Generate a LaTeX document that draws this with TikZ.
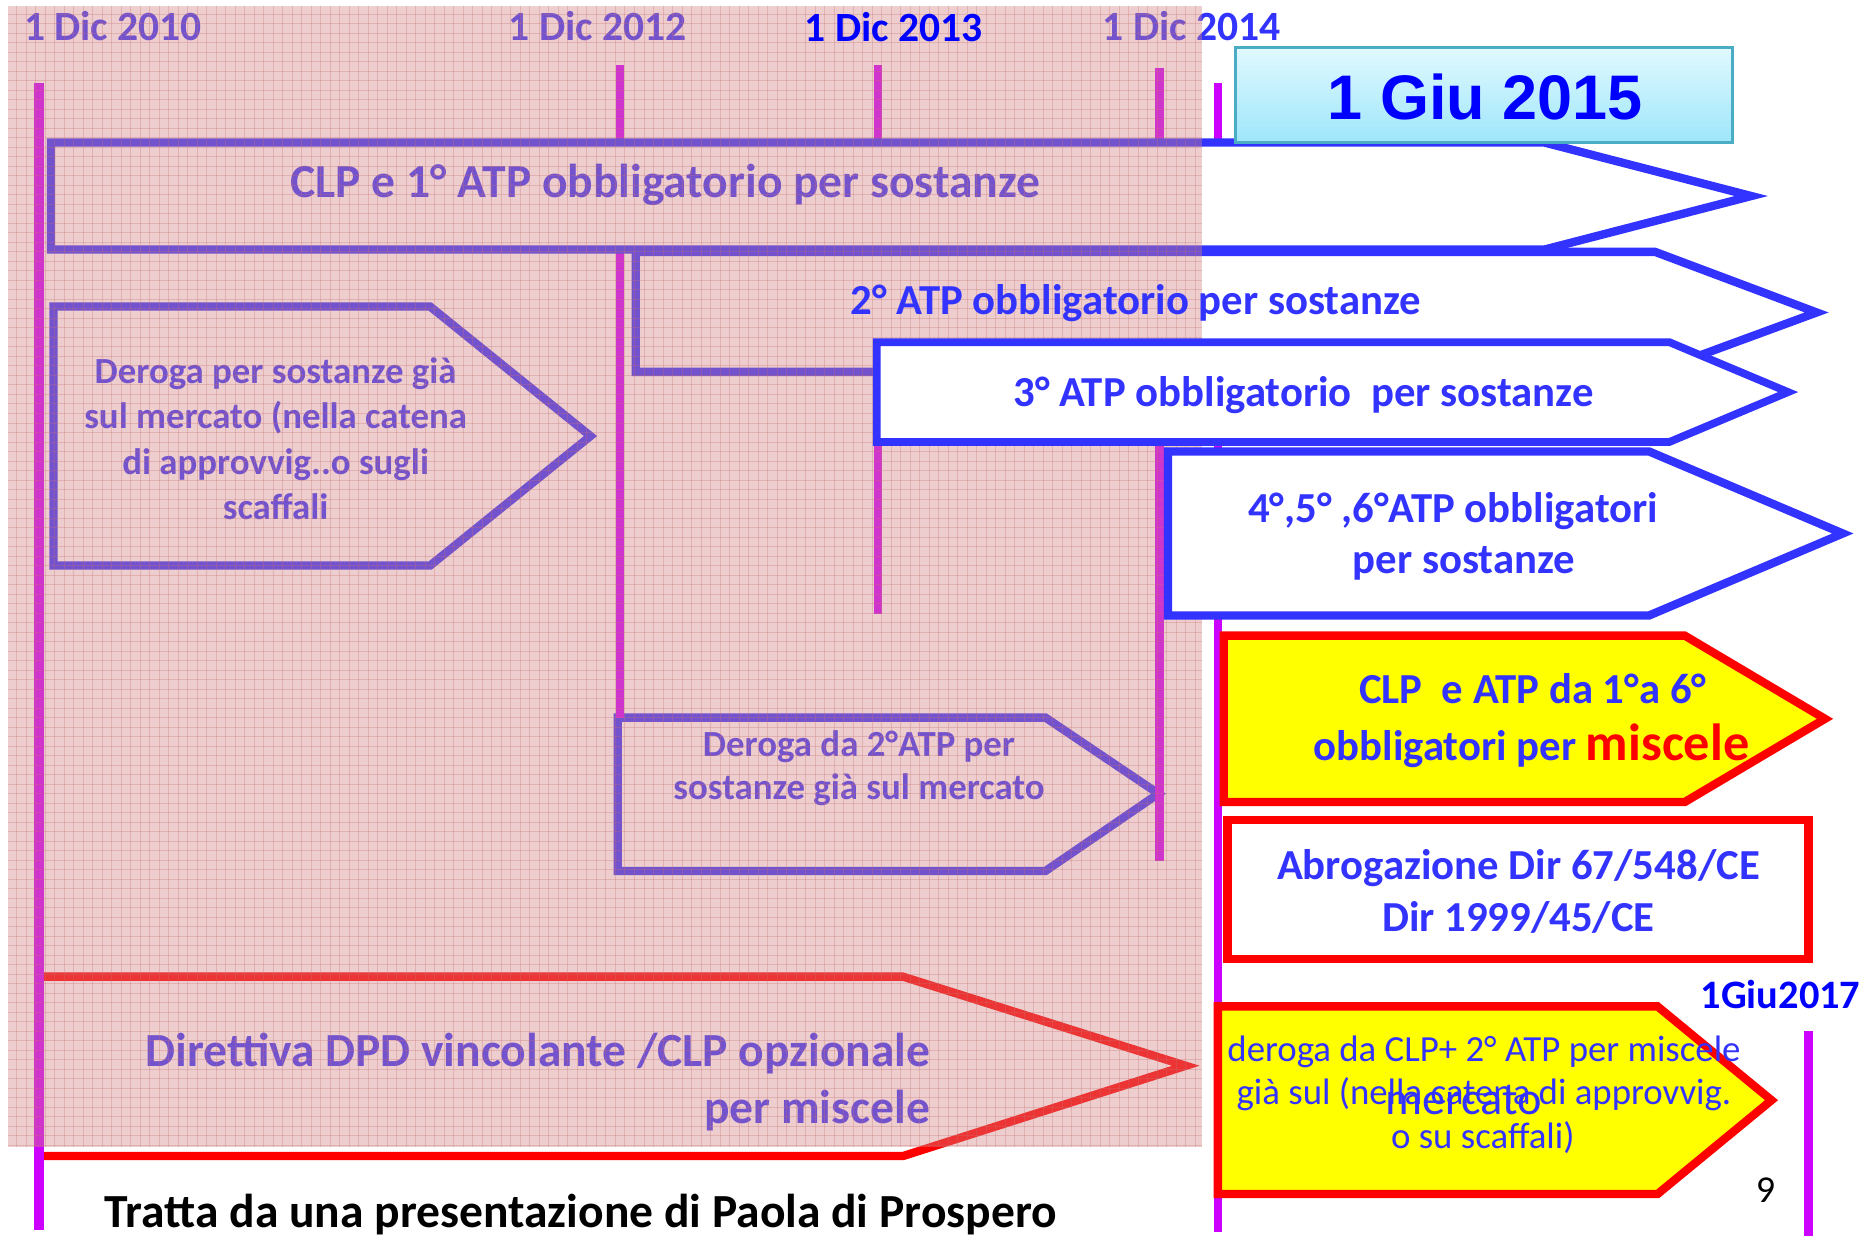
\documentclass[tikz,border=0pt]{standalone}
\usepackage{fontspec}
\setmainfont{Carlito}
\newfontfamily\arialfont{Liberation Sans}
\definecolor{cblue}{RGB}{51,51,255}
\definecolor{pblue}{RGB}{0,0,255}
\definecolor{cred}{RGB}{255,0,0}
\definecolor{cpurple}{RGB}{204,0,255}
\definecolor{cyellow}{RGB}{255,255,0}
\definecolor{cpink}{RGB}{212,130,130}
\definecolor{cgrid}{RGB}{200,110,110}
\definecolor{cteal}{RGB}{75,172,198}
\definecolor{ctop}{RGB}{225,249,255}
\definecolor{cbot}{RGB}{158,230,250}
\newcommand\fsz[1]{\fontsize{#1}{#1}\selectfont}
\begin{document}
\begin{tikzpicture}[x=1pt,y=-1pt,
  bluebox/.style={draw=cblue,line width=7pt,fill=white,line join=miter},
  redbox/.style={draw=cred,line width=7pt,fill=white,line join=miter},
  yelbox/.style={draw=cred,line width=7pt,fill=cyellow,line join=miter},
  vline/.style={draw=cpurple,line width=7pt},
  txt/.style={inner sep=0pt,anchor=base,text=cblue},
  gridline/.style={draw=cgrid,line width=0.8pt,opacity=0.3},
]
\useasboundingbox (0,0) rectangle (1568,1040);
\fill[white] (0,0) rectangle (1568,1040);

% ---------- layer under the pink overlay ----------
\filldraw[bluebox] (45,258) -- (362,258) -- (497,367) -- (362,476) -- (45,476) -- cycle;
\filldraw[bluebox] (520,604) -- (880,604) -- (975,668) -- (880,733) -- (520,733) -- cycle;
\fill[white] (37,822) -- (760,822) -- (998,897) -- (760,973) -- (37,973) -- cycle;
\draw[redbox,fill=none] (37,822) -- (760,822) -- (998,897) -- (760,973) -- (37,973);

\node[txt,font=\fsz{31}\bfseries] (d1a) at (232,323) {Deroga per sostanze già};
\node[txt,font=\fsz{31}\bfseries] (d1b) at (232,361) {sul mercato (nella catena};
\node[txt,font=\fsz{31}\bfseries] (d1c) at (232,399) {di approvvig..o sugli};
\node[txt,font=\fsz{31}\bfseries] (d1d) at (232,437) {scaffali};
\node[txt,font=\fsz{31}\bfseries] (d2a) at (723,637) {Deroga da 2°ATP per};
\node[txt,font=\fsz{31}\bfseries] (d2b) at (723,673) {sostanze già sul mercato};
\node[txt,font=\fsz{40}\bfseries,anchor=base east] (dpa) at (783,898) {Direttiva DPD vincolante /CLP opzionale};
\node[txt,font=\fsz{40}\bfseries,anchor=base east] (dpb) at (783,946) {per miscele};

% timeline lines
\coordinate (l1t) at (33,70);    \coordinate (l1b) at (33,1035);
\coordinate (l2t) at (522,55);   \coordinate (l2b) at (522,604);
\coordinate (l3t) at (739,55);   \coordinate (l3b) at (739,517);
\coordinate (l4t) at (976,57);   \coordinate (l4b) at (976,725);
\coordinate (l5t) at (1025,70);  \coordinate (l5b) at (1025,1037);
\coordinate (l6t) at (1522,868); \coordinate (l6b) at (1522,1040);
\draw[vline,line width=8pt] (l1t) -- (l1b);
\draw[vline] (l2t) -- (l2b);
\draw[vline,line width=6.5pt] (l3t) -- (l3b);
\draw[vline] (l4t) -- (l4b);
\draw[vline] (l5t) -- (l5b);
\draw[vline,line width=8pt] (l6t) -- (l6b);

% dates under overlay
\node[txt,font=\fsz{35}\bfseries,anchor=base west] (t2010) at (20,34) {1 Dic 2010};
\node[txt,font=\fsz{35}\bfseries,anchor=base west] (t2012) at (428,34) {1 Dic 2012};
\node[txt,font=\fsz{35}\bfseries,anchor=base west] (t2014) at (928,34) {1 Dic 2014};

% CLP 1 ATP box and 2 ATP box
\filldraw[bluebox] (43,120) -- (1300,120) -- (1474,165) -- (1300,210) -- (43,210) -- cycle;
\node[txt,font=\fsz{40}\bfseries] (clp1) at (560,166) {CLP e 1° ATP obbligatorio per sostanze};
\filldraw[bluebox] (535,212) -- (1393,212) -- (1529,263) -- (1393,313) -- (535,313) -- cycle;

% ---------- pink overlay ----------
\fill[cpink,opacity=0.4] (7,5) rectangle (1012,965);
\foreach \gx in {14,22,...,1012} \draw[gridline] (\gx,5) -- (\gx,965);
\foreach \gy in {12,20,...,965} \draw[gridline] (7,\gy) -- (1012,\gy);

% ---------- above overlay ----------
\node[txt,font=\fsz{35}\bfseries,text=pblue,anchor=base west] (t2013) at (677,35) {1 Dic 2013};
\node[txt,font=\fsz{36}\bfseries] (atp2) at (956,265) {2° ATP obbligatorio per sostanze};

\filldraw[bluebox,line width=6.5pt] (738,288) -- (1405,288) -- (1505,330) -- (1405,372) -- (738,372) -- cycle;
\node[txt,font=\fsz{36}\bfseries] (atp3) at (1097,342) {3° ATP obbligatorio\ \ per sostanze};

\filldraw[bluebox] (983,380) -- (1388,380) -- (1551,449) -- (1388,518) -- (983,518) -- cycle;
\node[txt,font=\fsz{36}\bfseries] (atp4a) at (1223,440) {4°,5° ,6°ATP obbligatori};
\node[txt,font=\fsz{36}\bfseries] (atp4b) at (1232,483) {per sostanze};

\filldraw[yelbox] (1030,535) -- (1418,535) -- (1536,605) -- (1418,675) -- (1030,675) -- cycle;
\node[txt,font=\fsz{36}\bfseries] (mixa) at (1290,592) {CLP\ \ e ATP da 1°a 6°};
\node[txt,font=\fsz{36}\bfseries] (mixb) at (1289,640) {obbligatori per {\color{cred}\fsz{44}miscele}};

\filldraw[redbox] (1033,690) rectangle (1522,807);
\node[txt,font=\fsz{36}\bfseries] (abra) at (1278,740) {Abrogazione Dir 67/548/CE};
\node[txt,font=\fsz{36}\bfseries] (abrb) at (1278,784) {Dir 1999/45/CE};

\node[txt,font=\fsz{34}\bfseries,text=pblue,anchor=base east] (t2017) at (1566,849) {1Giu2017};

\filldraw[yelbox] (1025,847) -- (1395,847) -- (1491,926) -- (1395,1005) -- (1025,1005) -- cycle;
\node[txt,font=\fsz{39}] (merc) at (1232,938) {mercato};
\node[txt,font=\fsz{31}] (dga) at (1249,893) {deroga da CLP+ 2° ATP per miscele};
\node[txt,font=\fsz{31}] (dgb) at (1249,930) {già sul (nella catena di approvvig.};
\node[txt,font=\fsz{31}] (dgc) at (1248,967) {o su scaffali)};

\node[txt,font=\fsz{32},text=black] (pg) at (1486,1012) {9};

\shade[top color=ctop,bottom color=cbot] (1040,40) rectangle (1458,120);
\draw[cteal,line width=2.5pt] (1040,40) rectangle (1458,120);
\node[txt,font=\arialfont\fsz{53}\bfseries,text=pblue] (giu15) at (1250,101) {1 Giu 2015};

\node[txt,font=\fsz{40}\bfseries,text=black,anchor=base west] (foot) at (88,1033) {Tratta da una presentazione di Paola di Prospero};
\end{tikzpicture}
\end{document}
